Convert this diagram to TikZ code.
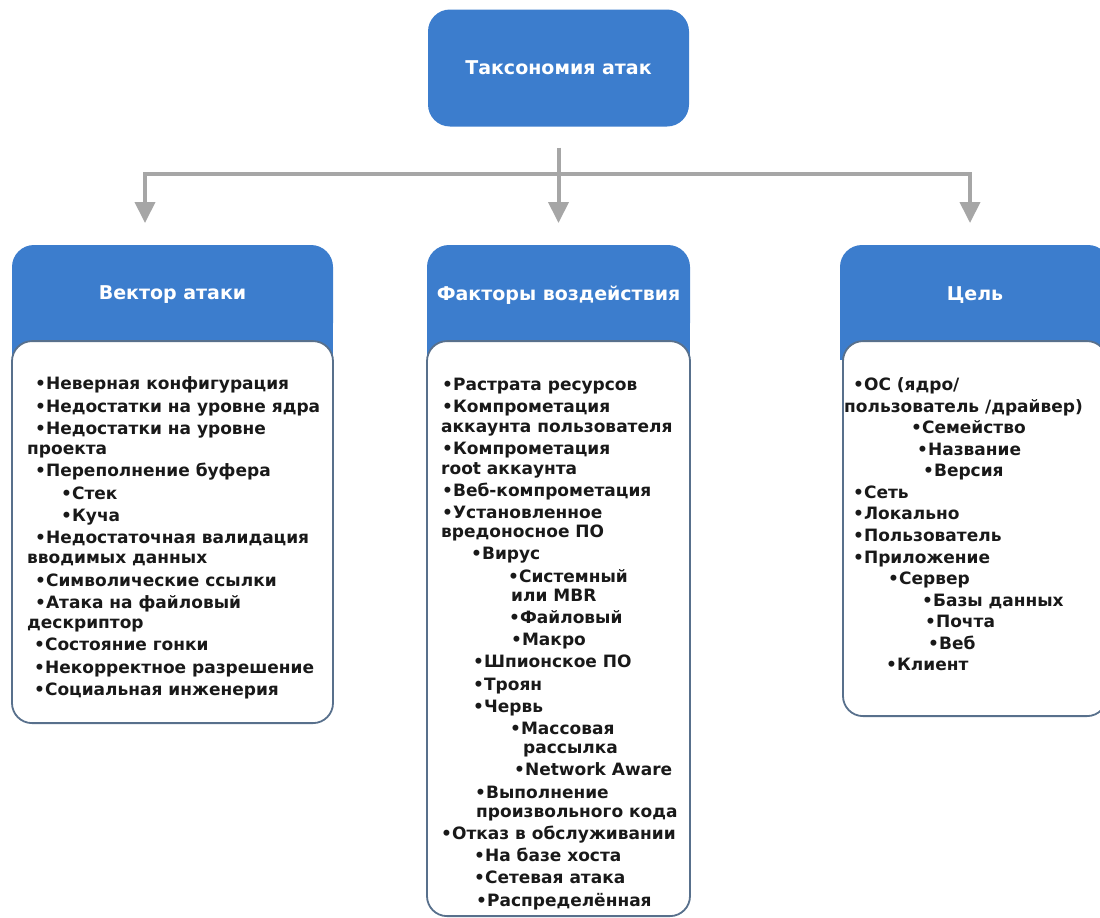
\documentclass[tikz,border=0pt]{standalone}
\usepackage{fontspec}
\setmainfont{DejaVu Sans}
\usetikzlibrary{positioning,arrows.meta}
\definecolor{hdrblue}{RGB}{60,125,205}
\definecolor{boxline}{RGB}{88,112,140}
\definecolor{linkgray}{RGB}{166,166,166}
\definecolor{ink}{RGB}{25,25,25}
\begin{document}
\begin{tikzpicture}[x=1pt,y=-1pt,
 hdr/.style={fill=hdrblue,text=white,rounded corners=22pt,inner sep=0,
   font=\bfseries\fontsize{19}{22}\selectfont},
 lst/.style={draw=boxline,line width=1.8pt,fill=white,rounded corners=20pt,inner sep=0},
 items/.style={font=\bfseries\fontsize{17}{#1}\selectfont,text=ink,align=left,
   anchor=north west,inner sep=0},
 link/.style={linkgray,line width=4pt},
 arr/.style={link,-{Triangle[length=21pt,width=20pt]}}]
\useasboundingbox (0,0) rectangle (1100,918);

% top
\node[hdr,minimum width=261pt,minimum height=117pt] (root) at (558.5,68) {Таксономия атак};

% three headers
\node[hdr,minimum width=321pt,minimum height=100pt] (vec) at (172.5,295) {Вектор атаки};
\node[hdr,minimum width=263pt,minimum height=100pt] (fac) at (558.5,295) {Факторы воздействия};
\node[hdr,minimum width=270pt,minimum height=100pt] (cel) at (975,295) {Цель};
\foreach \h in {vec,fac,cel}
  \fill[hdrblue] ([yshift=25pt]\h.south west) rectangle ([yshift=-15pt]\h.south east);

% list boxes
\node[lst,minimum width=321pt,minimum height=382pt,below=-5pt of vec] (vecbox) {};
\node[lst,minimum width=263pt,minimum height=575pt,below=-5pt of fac] (facbox) {};
\node[lst,minimum width=264pt,minimum height=375pt,below=-5pt of cel] (celbox) {};

% connectors
\coordinate (split) at ([yshift=-47pt]root.south);
\coordinate (vecin) at (145,223);
\coordinate (facin) at (558.5,223);
\coordinate (celin) at (970,223);
\draw[link] ([yshift=-21pt]root.south) -- (split);
\draw[arr] (split) -| (vecin);
\draw[arr] (split) -| (celin);
\draw[arr] (split) -- (facin);

\node[items=22.4pt] (vectxt) at (27,373.8) {\strut\hspace*{8pt}•Неверная конфигурация\\
 \hspace*{8pt}•Недостатки на уровне ядра\\
 \hspace*{8pt}•Недостатки на уровне\\[-2.5pt]
 проекта\\
 \hspace*{8pt}•Переполнение буфера\\
 \hspace*{34pt}•Стек\\
 \hspace*{34pt}•Куча\\
 \hspace*{8pt}•Недостаточная валидация\\[-2.5pt]
 вводимых данных\\
 \hspace*{8pt}•Символические ссылки\\
 \hspace*{8pt}•Атака на файловый\\[-2.5pt]
 дескриптор\\
 \hspace*{7pt}•Состояние гонки\\
 \hspace*{7pt}•Некорректное разрешение\\
 \hspace*{7pt}•Социальная инженерия};

\node[items=22.1pt] (factxt) at (441,375) {\strut\hspace*{1pt}•Растрата ресурсов\\
 \hspace*{1pt}•Компрометация\\[-2.5pt]
 аккаунта пользователя\\
 \hspace*{1pt}•Компрометация\\[-2.5pt]
 root аккаунта\\
 \hspace*{1pt}•Веб-компрометация\\
 \hspace*{1pt}•Установленное\\[-2.5pt]
 вредоносное ПО\\
 \hspace*{30pt}•Вирус\\
 \hspace*{67pt}•Системный\\[-2.5pt]
 \hspace*{70pt}или MBR\\
 \hspace*{68pt}•Файловый\\
 \hspace*{70pt}•Макро\\
 \hspace*{32pt}•Шпионское ПО\\
 \hspace*{32pt}•Троян\\
 \hspace*{32pt}•Червь\\
 \hspace*{69pt}•Массовая\\[-2.5pt]
 \hspace*{82pt}рассылка\\
 \hspace*{73pt}•Network Aware\\
 \hspace*{34pt}•Выполнение\\[-2.5pt]
 \hspace*{35pt}произвольного кода\\
 •Отказ в обслуживании\\
 \hspace*{33pt}•На базе хоста\\
 \hspace*{33pt}•Сетевая атака\\
 \hspace*{35pt}•Распределённая};

\node[items=21.54pt] (celtxt) at (843,375.4) {\strut\hspace*{10pt}•ОС (ядро/\\
 \hspace*{1pt}пользователь /драйвер)\\
 \hspace*{68pt}•Семейство\\
 \hspace*{74pt}•Название\\
 \hspace*{80pt}•Версия\\
 \hspace*{10pt}•Сеть\\
 \hspace*{10pt}•Локально\\
 \hspace*{10pt}•Пользователь\\
 \hspace*{10pt}•Приложение\\
 \hspace*{45pt}•Сервер\\
 \hspace*{79pt}•Базы данных\\
 \hspace*{82pt}•Почта\\
 \hspace*{85pt}•Веб\\
 \hspace*{43pt}•Клиент};
\end{tikzpicture}
\end{document}
